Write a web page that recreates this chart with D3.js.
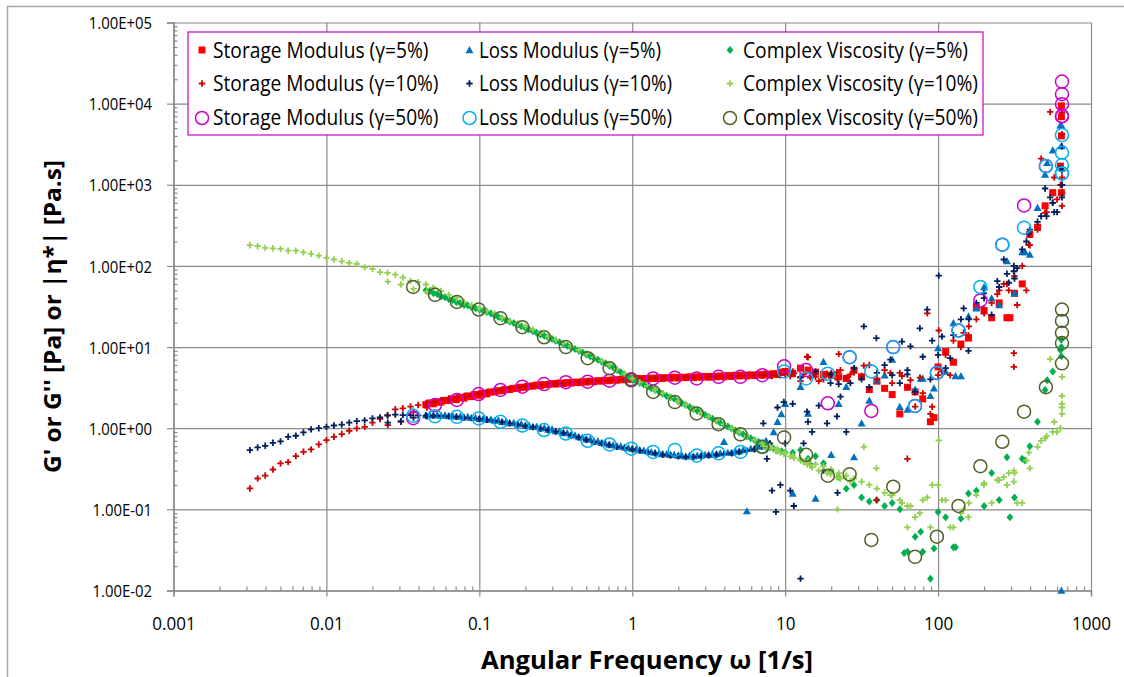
<!DOCTYPE html>
<html><head><meta charset="utf-8">
<script src="https://cdn.jsdelivr.net/npm/d3@7"></script>
<style>body{margin:0;background:#fff}svg{display:block}text{font-family:'Open Sans',sans-serif;fill:#000}</style>
</head><body><svg id="c" width="1124" height="677"></svg>
<script>
// ---------- tick labels ----------
const xTickValues = [0.001, 0.01, 0.1, 1, 10, 100, 1000];
const xTickLabels = ["0.001", "0.01", "0.1", "1", "10", "100", "1000"];
const yTickValues = [1e-2, 1e-1, 1e0, 1e1, 1e2, 1e3, 1e4, 1e5];
const yTickLabels = ["1.00E-02", "1.00E-01", "1.00E+00", "1.00E+01", "1.00E+02", "1.00E+03", "1.00E+04", "1.00E+05"];
const xTitle = "Angular Frequency ω [1/s]";
const yTitle = "G' or G'' [Pa] or |η*| [Pa.s]";

// ---------- gamma = 10 % ----------
const w10 = [0.00316,0.00355,0.00398,0.00447,0.00501,0.00562,0.00631,0.00708,0.00794,0.00891,
0.0100,0.0112,0.0126,0.0141,0.0158,0.0178,0.0200,0.0224,0.0251,0.0282,
0.0316,0.0355,0.0398,0.0447,0.0501,0.0562,0.0631,0.0708,0.0794,0.0891,
0.100,0.112,0.126,0.141,0.158,0.178,0.200,0.224,0.251,0.282,
0.316,0.355,0.398,0.447,0.501,0.562,0.631,0.708,0.794,0.891,
1.00,1.12,1.26,1.41,1.58,1.78,2.00,2.24,2.51,2.82,
3.16,3.55,3.98,4.47,5.01,5.62,6.31,7.08,7.94,8.91,
10.0,11.2,12.6,14.1,15.8,17.8,20.0,22.4,25.1,28.2,
31.6,35.5,39.8,44.7,50.1,56.2,63.1,70.8,79.4,89.1,
100,112,126,141,158,178,200,224,251,282,316,355,398,447,501,562,631,
0.0252,0.0307,0.0371,0.0454,
7.2,7.6,8.2,8.7,9.3,9.8,
10.8,11.4,12.6,13.2,13.9,14.6,15.0,16.6,18.8,19.8,
21.8,22.0,23.0,26.7,32.7,39.5,48.8,58,63,66,
76,85,91.5,101,106,120,147,159,199,244,
269,290,313,313,329,378,392,472,512,541,
575,600,646,646,646,646,646];
const gp10 = [0.181,0.240,0.261,0.310,0.368,0.382,0.453,0.512,0.548,0.631,0.713,0.784,0.847,0.931,0.995,1.04,1.17,1.30,1.45,1.71,
1.76,1.85,1.93,2.02,2.12,2.22,2.32,2.4,2.48,2.6,
2.7,2.8,2.9,3.0,3.1,3.2,3.3,3.35,3.45,3.5,3.55,3.6,3.65,3.7,3.75,3.8,3.85,3.9,3.95,4.0,
4.1,4.1,4.15,4.15,4.2,4.2,4.2,4.25,4.25,4.3,4.3,4.35,4.4,4.4,4.45,4.5,4.5,4.5,4.6,4.6,
4.6,5.0,3.8,7.5,4.3,4.0,4.8,8.2,4.2,4.9,4.4,6.0,4.0,5.2,3.6,4.8,3.2,1.85,2.7,1.5,
4.5,8,12,10,14,22,26,35,50,60,75,100,180,280,450,600,1000,
1.09,1.2,1.6,1.8,
4.5,4.6,4.4,4.7,4.5,4.9,
4.4,4.8,4.3,4.6,7.6,4.2,4.5,3.8,4.7,4.4,
4.9,4.0,5.2,4.6,5.9,0.13,4.8,4.4,0.42,3.9,
4.2,26,1.84,16,5,4.5,15,18,30,45,
60,50,8.4,5.7,33,50,182,2100,460,7900,
1230,660,7800,4200,1230,800,550];
const gpp10 = [0.537,0.579,0.607,0.661,0.688,0.784,0.807,0.887,0.968,1.00,1.04,1.08,1.11,1.17,1.22,1.25,1.32,1.36,1.43,1.47,
1.45,1.45,1.44,1.43,1.42,1.42,1.40,1.38,1.35,1.33,
1.30,1.27,1.23,1.19,1.15,1.11,1.07,1.03,0.99,0.95,0.91,0.87,0.82,0.77,0.72,0.68,0.65,0.62,0.59,0.57,
0.55,0.53,0.51,0.49,0.47,0.46,0.45,0.44,0.44,0.45,0.46,0.47,0.48,0.49,0.51,0.53,0.55,0.6,0.65,1.8,
0.65,2.0,4.2,1.2,5.0,0.3,4.6,3.5,0.9,5.5,4.0,3.2,4.8,6.0,4.5,3.6,5.2,2.8,7.6,4.0,
8.0,5.5,14,22,9,35,40,25,55,80,70,160,280,350,900,600,1600,
1.17,1.22,1.35,1.40,
1.15,0.42,0.17,0.093,0.2,2.1,
0.17,0.11,0.014,0.65,1.6,0.36,0.9,1.9,1.15,3.6,
1.4,0.16,2.45,3.6,18,12.9,7,11.7,4.6,10.2,
17,29,12,76,13.5,7.3,30,22,46,65,
120,62,86,100,94,200,250,410,410,700,
460,460,2960,990,700,1000,1500];
const eta10 = [180,175,167,165,162,154,154,147,141,134,126,120,114,109,106,96,92,84,82,78,72,65,63,59,
54,49,44,40,36,33,
30,28,26,23,21,19.5,18,16.5,15,13.5,12.3,11.2,10.2,9.2,8.3,7.5,6.8,6.1,5.4,4.7,
4.1,3.7,3.3,3.0,2.7,2.4,2.15,1.95,1.75,1.55,1.4,1.25,1.12,1.0,0.9,0.8,0.72,0.65,0.6,0.55,
0.5,0.46,0.42,0.4,0.36,0.34,0.31,0.28,0.26,0.24,0.22,0.2,0.18,0.16,0.15,0.13,
0.11,0.08,0.13,0.06,0.2,0.13,0.06,0.09,0.08,0.15,0.21,0.12,0.23,0.2,0.28,0.12,0.32,0.59,0.75,0.9,1.0,
64,59,52,48,
0.6,0.55,0.57,0.52,0.5,0.48,
0.45,0.43,0.4,0.38,0.36,0.35,0.33,0.3,0.28,0.27,
0.25,0.10,0.24,0.22,0.59,0.32,0.15,0.12,0.06,0.11,
0.09,0.14,0.2,0.71,0.13,0.06,0.1,0.12,0.2,0.23,
0.25,0.28,0.3,0.22,0.12,0.4,0.5,0.7,0.8,7.1,
1.2,0.9,1.5,2.5,4.3,1.8,2.0];

// ---------- gamma = 5 % (main sweep, repeat sweep, high-frequency extras) ----------
const w5 = [0.0447,0.0501,0.0562,0.0631,0.0708,0.0794,0.0891,
0.100,0.112,0.126,0.141,0.158,0.178,0.200,0.224,0.251,0.282,
0.316,0.355,0.398,0.447,0.501,0.562,0.631,0.708,0.794,0.891,
1.00,1.12,1.26,1.41,1.58,1.78,2.00,2.24,2.51,2.82,3.16,3.55,3.98,4.47,5.01,5.62,6.31,7.08,7.94,8.91,
10.0,11.2,12.6,14.1,15.8,17.8,20.0,22.4,25.1,28.2,31.6,35.5,39.8,44.7,50.1,56.2,63.1,70.8,79.4,89.1,
100,112,126,141,158,178,200,224,251,282,316,355,398,447,501,562,631,
640,640,640,640,517,370,94,77,60,295,130,
0.0473,0.0531,0.0596,0.0668,0.075,0.0841,0.0944,
0.106,0.119,0.133,0.150,0.168,0.188,0.211,0.237,0.266,0.299,0.335,0.376,0.422,0.473,0.531,0.596,0.668,0.750,0.841,0.944,
1.06,1.19,1.33,1.50,1.68,1.88,2.11,2.37,2.66,2.99,3.35,3.76,4.22,4.73,5.31,5.96,6.68,7.50,8.41,9.44];
const gp5 = [1.95,2.0,2.1,2.2,2.25,2.35,2.45,
2.55,2.65,2.8,2.9,3.0,3.1,3.2,3.3,3.35,3.45,
3.5,3.55,3.6,3.65,3.7,3.75,3.8,3.85,3.9,3.95,
4.0,4.05,4.05,4.1,4.1,4.15,4.15,4.2,4.2,4.25,4.25,4.3,4.3,4.35,4.4,4.4,4.45,4.5,4.5,4.6,
5.0,4.7,5.5,5.2,4.9,4.6,4.5,4.3,4.1,5.2,4.3,3.0,3.8,3.1,2.6,1.5,3.2,2.8,2.3,1.2,
5.7,8.8,6.5,10.9,12.9,31,28,23,35,23,46,60,244,300,550,800,1700,
9400,6900,4000,800,null,null,1.35,null,null,23,null,
2.05,2.1,2.2,2.3,2.4,2.5,2.6,
2.7,2.8,2.9,3.0,3.1,3.2,3.3,3.4,3.45,3.55,3.6,3.65,3.7,3.75,3.8,3.85,3.9,3.95,4.0,4.05,
4.1,4.1,4.15,4.2,4.2,4.25,4.25,4.3,4.3,4.35,4.35,4.4,4.45,4.5,4.5,4.55,4.6,4.65,4.7,4.9];
const gpp5 = [1.45,1.44,1.43,1.41,1.39,1.36,1.34,
1.31,1.28,1.24,1.2,1.16,1.12,1.08,1.04,1.0,0.96,
0.92,0.88,0.83,0.78,0.73,0.69,0.66,0.63,0.6,0.58,
0.56,0.54,0.52,0.5,0.48,0.47,0.46,0.45,0.45,0.46,0.47,0.48,0.68,0.5,0.52,0.095,0.56,0.6,0.65,1.2,
2.0,0.157,3.25,1.52,0.136,6.6,0.47,2.0,3.25,0.44,1.15,2.2,3.9,4.5,7.0,1.84,1.7,3.0,4.1,2.5,
9.7,5.0,19.8,4.4,24,30,55,40,33,115,46,148,138,520,1340,2660,5400,
5400,3000,0.01,null,1860,148,3.1,4.1,null,null,4.4,
1.47,1.46,1.44,1.42,1.4,1.38,1.35,
1.32,1.29,1.25,1.21,1.17,1.13,1.09,1.05,1.01,0.97,0.92,0.87,0.82,0.77,0.73,0.69,0.65,0.62,0.6,0.57,
0.55,0.53,0.51,0.49,0.48,0.47,0.46,0.46,0.46,0.47,0.48,0.49,0.5,0.52,0.54,0.56,0.6,0.7,0.9,1.5];
const eta5 = [50,46,42,39,36,33,31,
29,27,24.5,22.5,20.5,18.8,17.2,15.7,14.3,13.1,
12,10.9,9.9,9,8.1,7.3,6.6,5.9,5.2,4.6,
4.0,3.6,3.25,2.95,2.65,2.4,2.15,1.93,1.73,1.55,1.38,1.24,1.1,0.99,0.88,0.79,0.71,0.64,0.58,0.53,
0.5,0.5,0.54,0.42,0.45,0.37,0.3,0.25,0.18,0.2,0.14,0.125,0.13,0.11,0.12,0.1,0.03,0.046,0.03,0.014,
0.093,0.08,0.034,0.077,0.157,0.17,0.11,0.28,0.13,0.44,0.14,0.42,0.6,1.2,2.96,5.0,9.2,
12.3,10,7.7,null,3.9,0.4,0.033,0.053,0.029,0.08,0.034,
49,45,41,38,35,32.5,30,
28,26,23.5,21.5,19.8,18,16.5,15,13.8,12.6,11.5,10.4,9.5,8.6,7.7,7.0,6.3,5.6,4.9,4.3,
3.8,3.45,3.1,2.8,2.5,2.3,2.05,1.83,1.64,1.47,1.31,1.17,1.05,0.94,0.84,0.75,0.68,0.61,0.56,0.52];

// ---------- gamma = 50 % ----------
const w50 = [0.0369,0.0513,0.0713,0.099,0.1375,0.191,0.265,0.368,0.511,0.71,0.986,1.37,1.9,2.64,3.67,5.1,7.08,9.84,
13.7,19,26.4,36.6,50.9,70.7,98.2,136,189,263,365,507,646,646,646,646,646];
const gp50 = [1.33,1.93,2.23,2.64,2.96,3.25,3.5,3.69,3.75,3.85,4.0,4.1,4.2,4.1,4.3,4.3,4.5,5.8,
5.2,2.03,7.5,1.63,10,1.88,4.8,16,37.6,183,556,1700,18700,13100,9850,7000,7000];
const gpp50 = [1.42,1.40,1.38,1.32,1.20,1.08,0.95,0.86,0.70,0.63,0.56,0.51,0.54,0.46,0.49,0.51,0.59,5.0,
4.1,4.7,7.5,5.0,10,1.88,4.8,16,55,183,296,1700,4100,2490,1750,1380,1380];
const eta50 = [55,44,36,29,22.7,17.6,13.2,10,7.3,5.5,3.9,2.8,2.1,1.52,1.12,0.84,0.59,0.77,
0.47,0.26,0.27,0.042,0.19,0.026,0.046,0.11,0.34,0.68,1.6,3.2,29,21,15,11.2,6.3];

// ---------- series ----------
const series = [
  {name:"Storage Modulus (γ=5%)",  w:w5,  v:gp5,   shape:"square",   color:"#FF0000"},
  {name:"Loss Modulus (γ=5%)",     w:w5,  v:gpp5,  shape:"triangle", color:"#0070C0"},
  {name:"Complex Viscosity (γ=5%)",w:w5,  v:eta5,  shape:"diamond",  color:"#00B050"},
  {name:"Storage Modulus (γ=10%)", w:w10, v:gp10,  shape:"plus",     color:"#D00000"},
  {name:"Loss Modulus (γ=10%)",    w:w10, v:gpp10, shape:"plus",     color:"#002060"},
  {name:"Complex Viscosity (γ=10%)",w:w10,v:eta10, shape:"plus",     color:"#92D050"},
  {name:"Storage Modulus (γ=50%)", w:w50, v:gp50,  shape:"circle",   color:"#CC00CC"},
  {name:"Loss Modulus (γ=50%)",    w:w50, v:gpp50, shape:"circle",   color:"#00B0F0"},
  {name:"Complex Viscosity (γ=50%)",w:w50,v:eta50, shape:"circle",   color:"#4F6228"}
];

const svg = d3.select("#c");
const X0 = 173.5, X1 = 1091, Y0 = 590.5, Y1 = 22.5;
const x = d3.scaleLog().domain([0.001, 1000]).range([X0, X1]);
const y = d3.scaleLog().domain([0.01, 1e5]).range([Y0, Y1]);
const gridCol = "#8a8a8a";

// outer chart border
svg.append("path").attr("d", "M7.5,677V6.5H1124").attr("fill", "none")
  .attr("stroke", "#a6a6a6").attr("stroke-width", 1.5);

// gridlines
svg.append("g").attr("transform", `translate(0,${Y0})`)
  .call(d3.axisBottom(x).tickValues(xTickValues).tickSize(-(Y0 - Y1)).tickFormat(""))
  .call(g => g.select(".domain").remove())
  .selectAll("line").attr("stroke", gridCol).attr("stroke-width", 1.2);
svg.append("g").attr("transform", `translate(${X0},0)`)
  .call(d3.axisLeft(y).tickValues(yTickValues).tickSize(-(X1 - X0)).tickFormat(""))
  .call(g => g.select(".domain").remove())
  .selectAll("line").attr("stroke", gridCol).attr("stroke-width", 1.2);

// minor ticks
const minorX = [], minorY = [];
for (let e = -3; e < 3; e++) for (let m = 2; m <= 9; m++) minorX.push(m * Math.pow(10, e));
for (let e = -2; e < 5; e++) for (let m = 2; m <= 9; m++) minorY.push(m * Math.pow(10, e));
svg.append("g").attr("transform", `translate(0,${Y0})`)
  .call(d3.axisBottom(x).tickValues(minorX).tickSize(-4).tickFormat(""))
  .call(g => g.select(".domain").remove())
  .selectAll("line").attr("stroke", gridCol).attr("stroke-width", 1.2);
svg.append("g").attr("transform", `translate(${X0},0)`)
  .call(d3.axisLeft(y).tickValues(minorY).tickSize(-4).tickFormat(""))
  .call(g => g.select(".domain").remove())
  .selectAll("line").attr("stroke", gridCol).attr("stroke-width", 1.2);

// major axes with labels
const ax = svg.append("g").attr("transform", `translate(0,${Y0})`)
  .call(d3.axisBottom(x).tickValues(xTickValues).tickFormat((d, i) => xTickLabels[i]).tickSize(6));
ax.select(".domain").attr("stroke", gridCol).attr("stroke-width", 1.5);
ax.selectAll("line").attr("stroke", gridCol).attr("stroke-width", 1.2);
ax.selectAll("text").attr("y", 39).attr("dy", null).attr("font-size", 18.5)
  .attr("font-family", "'Open Sans',sans-serif").attr("fill", "#000")
  .each(function () { const L = this.getComputedTextLength(); d3.select(this).attr("textLength", L * 0.92).attr("lengthAdjust", "spacingAndGlyphs"); });

const ay = svg.append("g").attr("transform", `translate(${X0},0)`)
  .call(d3.axisLeft(y).tickValues(yTickValues).tickFormat((d, i) => yTickLabels[i]).tickSize(6.5));
ay.select(".domain").attr("stroke", gridCol).attr("stroke-width", 1.5);
ay.selectAll("line").attr("stroke", gridCol).attr("stroke-width", 1.2);
ay.selectAll("text").attr("x", -21.5).attr("dy", 6.2).attr("font-size", 17)
  .attr("font-family", "'Open Sans',sans-serif").attr("fill", "#000")
  .each(function () { const L = this.getComputedTextLength(); d3.select(this).attr("textLength", L * 0.875).attr("lengthAdjust", "spacingAndGlyphs"); });

// axis titles
svg.append("text").attr("x", 481).attr("y", 668.5).attr("font-size", 25).attr("font-weight", 700)
  .attr("textLength", 332).attr("lengthAdjust", "spacingAndGlyphs").text(xTitle);
svg.append("text").attr("transform", "translate(60.5,473) rotate(-90)").attr("font-size", 24).attr("font-weight", 700)
  .attr("textLength", 313).attr("lengthAdjust", "spacingAndGlyphs").text(yTitle);

// marker drawing
function marker(sel, shape, color) {
  if (shape === "square") sel.append("rect").attr("x", -3.5).attr("y", -3.5).attr("width", 7).attr("height", 7).attr("fill", color);
  else if (shape === "triangle") sel.append("path").attr("d", "M0,-4L4,3.2L-4,3.2Z").attr("fill", color);
  else if (shape === "diamond") sel.append("path").attr("d", "M0,-4L3.4,0L0,4L-3.4,0Z").attr("fill", color);
  else if (shape === "plus") sel.append("path").attr("d", "M-3.2,0H3.2M0,-3.2V3.2").attr("stroke", color).attr("stroke-width", 1.8).attr("fill", "none");
  else if (shape === "circle") sel.append("circle").attr("r", 6.5).attr("fill", "none").attr("stroke", color).attr("stroke-width", 1.5);
}

// plot points
const plot = svg.append("g");
series.forEach(s => {
  const pts = d3.zip(s.w, s.v).filter(d => d[1] != null);
  plot.append("g").selectAll("g").data(pts).join("g")
    .attr("transform", d => `translate(${x(d[0])},${y(d[1])})`)
    .each(function () { marker(d3.select(this), s.shape, s.color); });
});

// legend
const leg = svg.append("g");
leg.append("rect").attr("x", 188).attr("y", 32).attr("width", 795).attr("height", 103)
  .attr("fill", "#fff").attr("stroke", "#CC00CC").attr("stroke-width", 1.2);
const colMarkX = [202, 469.5, 730];
const colTextX = [213, 479, 743];
const rowMarkY = [50, 83.5, 118];
const rowTextY = [57.5, 91, 125];
const textW = [[215.5, 182, 225], [225.5, 193, 235], [225.5, 193, 235]];
series.forEach((s, i) => {
  const r = Math.floor(i / 3), c = i % 3;
  const g = leg.append("g").attr("transform", `translate(${colMarkX[c]},${rowMarkY[r]})`);
  marker(g, s.shape, s.color);
  leg.append("text").attr("x", colTextX[c]).attr("y", rowTextY[r]).attr("font-size", 22)
    .attr("textLength", textW[r][c]).attr("lengthAdjust", "spacingAndGlyphs").text(s.name);
});
</script></body></html>
